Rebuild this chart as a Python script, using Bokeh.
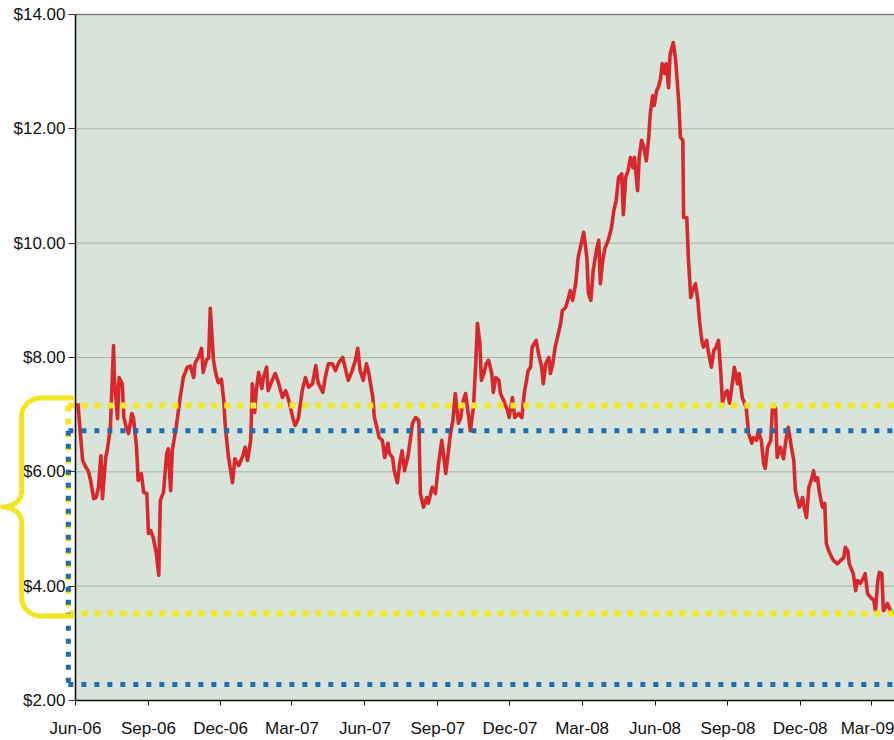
import numpy as np
import pandas as pd
from bokeh.plotting import figure
from bokeh.models import (Range1d, FixedTicker, NumeralTickFormatter,
                          DatetimeTickFormatter, BoxAnnotation)
from bokeh.embed import file_html
from bokeh.resources import INLINE

# ---------------- data ----------------
series_start = "2006-06-01"
day_offset = [
    3, 9, 13, 16, 19, 23, 26, 29, 32, 34, 38, 40, 44, 48, 49, 53, 55, 59, 61, 64,
    67, 71, 73, 77, 79, 83, 86, 90, 92, 95, 98, 102, 105, 107, 111, 115, 117, 120, 122, 127,
    132, 136, 141, 145, 149, 151, 155, 159, 161, 165, 168, 170, 174, 177, 180, 184, 187, 189, 193, 198,
    201, 206, 211, 214, 217, 221, 223, 226, 228, 231, 235, 237, 241, 243, 248, 252, 256, 261, 265, 269,
    274, 277, 281, 286, 290, 294, 299, 303, 306, 312, 315, 319, 324, 328, 332, 337, 341, 344, 349, 353,
    356, 359, 363, 367, 370, 375, 377, 381, 383, 387, 390, 394, 396, 400, 402, 406, 409, 412, 415, 419,
    421, 425, 429, 433, 435, 439, 443, 445, 450, 454, 458, 462, 464, 467, 470, 473, 476, 479, 483, 486,
    488, 492, 496, 498, 502, 505, 507, 510, 512, 515, 518, 521, 525, 527, 530, 534, 536, 540, 545, 547,
    551, 554, 559, 563, 566, 571, 574, 576, 581, 584, 588, 590, 593, 597, 599, 602, 605, 609, 612, 614,
    618, 622, 624, 627, 631, 634, 641, 645, 647, 650, 653, 657, 660, 662, 665, 668, 672, 676, 679, 682,
    685, 689, 691, 694, 697, 700, 703, 705, 709, 711, 714, 717, 720, 723, 725, 728, 730, 733, 735, 738,
    740, 743, 745, 748, 750, 754, 757, 761, 763, 766, 767, 771, 773, 776, 778, 782, 785, 787, 790, 792,
    796, 798, 802, 805, 808, 811, 814, 816, 819, 822, 825, 829, 831, 835, 837, 841, 846, 849, 853, 855,
    859, 861, 865, 868, 870, 873, 877, 879, 883, 885, 889, 893, 896, 899, 903, 906, 908, 911, 913, 917,
    919, 922, 925, 928, 931, 933, 936, 938, 942, 945, 947, 950, 954, 956, 961, 965, 969, 971, 974, 976,
    981, 984, 986, 990, 994, 996, 999, 1003, 1007, 1009, 1012, 1014, 1017, 1019, 1022, 1024, 1028, 1032,
]
price = [
    7.20, 6.20, 6.08, 6.02, 5.85, 5.53, 5.55, 5.73, 6.28, 5.53, 6.25, 6.37, 6.78, 8.21, 7.65, 6.93, 7.65, 7.54, 6.95, 6.78,
    6.67, 7.02, 6.95, 6.43, 5.85, 5.97, 5.64, 5.62, 4.92, 4.97, 4.85, 4.57, 4.19, 5.50, 5.64, 6.32, 6.40, 5.67, 6.37, 6.78,
    7.30, 7.65, 7.83, 7.85, 7.65, 7.91, 8.00, 8.16, 7.74, 7.95, 8.00, 8.86, 7.95, 7.72, 7.56, 7.62, 7.25, 6.78, 6.25, 5.81,
    6.23, 6.11, 6.28, 6.43, 6.20, 6.55, 7.54, 7.04, 7.42, 7.74, 7.46, 7.65, 7.83, 7.42, 7.60, 7.72, 7.56, 7.30, 7.42, 7.25,
    6.95, 6.81, 6.93, 7.42, 7.65, 7.48, 7.54, 7.86, 7.56, 7.39, 7.65, 7.89, 7.89, 7.77, 7.91, 8.00, 7.77, 7.60, 7.77, 7.95,
    8.16, 7.77, 7.60, 7.89, 7.72, 7.30, 6.95, 6.72, 6.60, 6.55, 6.25, 6.50, 6.32, 6.25, 6.02, 5.81, 6.15, 6.37, 6.02, 6.25,
    6.43, 6.85, 6.95, 6.90, 5.62, 5.38, 5.55, 5.45, 5.73, 5.62, 6.15, 6.55, 6.32, 5.97, 6.32, 6.67, 6.90, 7.37, 6.85, 6.95,
    7.20, 7.37, 6.95, 6.72, 7.13, 7.95, 8.60, 8.25, 7.60, 7.72, 7.89, 7.95, 7.72, 7.39, 7.65, 7.60, 7.37, 7.25, 7.07, 6.95,
    7.30, 6.95, 7.02, 6.95, 7.37, 7.77, 7.83, 8.18, 8.30, 8.07, 7.83, 7.54, 7.89, 8.00, 7.72, 7.89, 8.18, 8.42, 8.60, 8.82,
    8.87, 9.05, 9.17, 9.00, 9.30, 9.75, 10.19, 9.75, 9.12, 9.00, 9.52, 9.87, 10.05, 9.29, 9.70, 9.92, 10.05, 10.27, 10.57, 10.75,
    11.15, 11.21, 10.50, 11.15, 11.27, 11.50, 11.32, 11.50, 10.92, 11.50, 11.80, 11.67, 11.44, 11.85, 12.27, 12.58, 12.41, 12.67, 12.72, 12.88,
    13.14, 12.97, 13.14, 12.72, 13.31, 13.51, 13.20, 12.44, 11.85, 11.80, 10.45, 10.45, 9.75, 9.05, 9.15, 9.29, 9.00, 8.65, 8.30, 8.18,
    8.30, 8.12, 7.83, 8.12, 8.18, 8.30, 7.72, 7.20, 7.37, 7.42, 7.20, 7.60, 7.83, 7.54, 7.72, 7.30, 7.12, 6.67, 6.50, 6.60,
    6.55, 6.72, 6.55, 6.15, 6.06, 6.43, 6.55, 7.12, 7.12, 6.25, 6.43, 6.23, 6.55, 6.78, 6.43, 6.20, 5.67, 5.50, 5.38, 5.55,
    5.38, 5.20, 5.73, 5.85, 6.02, 5.85, 5.90, 5.67, 5.38, 5.45, 4.75, 4.62, 4.50, 4.45, 4.39, 4.45, 4.50, 4.68, 4.62, 4.39,
    4.22, 3.92, 4.10, 4.05, 4.15, 4.22, 3.87, 3.80, 3.75, 3.57, 4.10, 4.24, 4.22, 3.57, 3.63, 3.70, 3.57, 3.52,
]
quarter_ticks = ["2006-06-01", "2006-09-01", "2006-12-01", "2007-03-01",
                 "2007-06-01", "2007-09-01", "2007-12-01", "2008-03-01",
                 "2008-06-01", "2008-09-01", "2008-12-01", "2009-03-01"]
price_ticks = [2, 4, 6, 8, 10, 12, 14]
yellow_levels = [7.16, 3.52]   # hand-drawn yellow dotted levels
blue_levels = [6.72, 2.28]     # hand-drawn blue dotted levels

# ---------------- layout helpers ----------------
EPOCH = pd.Timestamp("1970-01-01")
start = pd.Timestamp(series_start)


def ms(ts):
    return (pd.Timestamp(ts) - EPOCH).total_seconds() * 1000.0


def day(d):
    return start + pd.Timedelta(days=float(d))


W, H = 894, 740
AXIS_X, TOP_Y, AXIS_Y = 75, 14, 700          # frame pixel positions
PX_PER_DAY = 796.0 / 1004.0
PX_PER_USD = (AXIS_Y - TOP_Y) / 12.0
x_lo = day(-AXIS_X / PX_PER_DAY)
x_hi = day((W - AXIS_X) / PX_PER_DAY)
y_lo = 2 - (H - AXIS_Y) / PX_PER_USD
y_hi = 14 + TOP_Y / PX_PER_USD

dates = start + pd.to_timedelta(day_offset, unit="D")

p = figure(width=W, height=H, x_axis_type="datetime",
           x_range=Range1d(x_lo, x_hi), y_range=Range1d(y_lo, y_hi),
           output_backend="svg", toolbar_location=None,
           min_border=0, min_border_left=0, min_border_right=0,
           min_border_top=0, min_border_bottom=0,
           background_fill_color="white", border_fill_color="white",
           outline_line_color=None)
p.xgrid.visible = False
p.ygrid.visible = False

# plot area background
p.add_layout(BoxAnnotation(left=ms(start), bottom=price_ticks[0], top=price_ticks[-1],
                           fill_color="#d8e3da", fill_alpha=1.0, line_alpha=0,
                           level="underlay"))

# horizontal grid lines
inner = price_ticks[1:-1]
p.segment(x0=[start] * len(inner), x1=[x_hi] * len(inner), y0=inner, y1=inner,
          line_color="#a9b1ab", line_width=1)
p.segment(x0=[start], x1=[x_hi], y0=[price_ticks[-1]], y1=[price_ticks[-1]],
          line_color="#7d7f7e", line_width=1.3)

# price line
p.line(dates, price, line_color="#d8282c", line_width=3.6, line_join="round")

# hand-drawn dotted annotation lines
ann_x = day(-9)
p.segment(x0=[ann_x], x1=[ann_x], y0=[yellow_levels[0]], y1=[yellow_levels[1]],
          line_color="#f3e81c", line_width=6, line_dash="6 7", line_cap="butt")
p.segment(x0=[ann_x] * 2, x1=[x_hi] * 2, y0=yellow_levels, y1=yellow_levels,
          line_color="#f3e81c", line_width=6, line_dash="6 7", line_cap="butt")
p.segment(x0=[ann_x], x1=[ann_x], y0=[blue_levels[0]], y1=[blue_levels[1]],
          line_color="#1f6cb3", line_width=5, line_dash="5 8", line_cap="butt")
p.segment(x0=[ann_x] * 2, x1=[x_hi] * 2, y0=blue_levels, y1=blue_levels,
          line_color="#1f6cb3", line_width=5, line_dash="5 8", line_cap="butt")

# hand-drawn yellow brace spanning the yellow range
top = yellow_levels[0] + 0.13
bot = yellow_levels[1] - 0.04
mid = (top + bot) / 2
x_end, x_spine, x_tip = -4.0, -68.0, -92.0
rx, ry, ry2 = 24.0, 0.32, 0.26


def arc(cx, cy, ax, ay, a0, a1, n=16):
    t = np.radians(np.linspace(a0, a1, n))
    return list(cx + ax * np.cos(t)), list(cy + ay * np.sin(t))


bx, by = [x_end], [top]
for (cx, cy, ax, ay, a0, a1) in [
    (x_spine + rx, top - ry, rx, ry, 90, 180),
    (x_tip, mid + ry2, x_spine - x_tip, ry2, 0, -90),
    (x_tip, mid - ry2, x_spine - x_tip, ry2, 90, 0),
    (x_spine + rx, bot + ry, rx, ry, 180, 270),
]:
    ax_, ay_ = arc(cx, cy, ax, ay, a0, a1)
    bx += ax_
    by += ay_
bx.append(x_end)
by.append(bot)
p.line(start + pd.to_timedelta(bx, unit="D"), by, line_color="#f2e51d",
       line_width=5, line_cap="round", line_join="round", level="overlay")

# axes
font = "Liberation Sans"
xa = p.xaxis[0]
xa.fixed_location = price_ticks[0]
xa.bounds = (start, x_hi)
xa.ticker = FixedTicker(ticks=[ms(t) for t in quarter_ticks])
fmt = "%b-%y"
xa.formatter = DatetimeTickFormatter(
    microseconds=fmt, milliseconds=fmt, seconds=fmt, minsec=fmt, minutes=fmt,
    hourmin=fmt, hours=fmt, days=fmt, months=fmt, years=fmt)
xa.axis_line_color = "#111111"
xa.axis_line_width = 1.5
xa.major_tick_line_color = "#111111"
xa.major_tick_out = 5
xa.major_tick_in = 0
xa.minor_tick_line_color = None
xa.major_label_text_font = font
xa.major_label_text_font_size = "17px"
xa.major_label_text_color = "#111111"
xa.major_label_standoff = 13

ya = p.yaxis[0]
ya.fixed_location = ms(start)
ya.bounds = (price_ticks[0], price_ticks[-1])
ya.ticker = FixedTicker(ticks=price_ticks)
ya.formatter = NumeralTickFormatter(format="$0.00")
ya.axis_line_color = "#111111"
ya.axis_line_width = 1.6
ya.major_tick_line_color = "#333333"
ya.major_tick_out = 7
ya.major_tick_in = 0
ya.minor_tick_line_color = None
ya.major_label_text_font = font
ya.major_label_text_font_size = "17px"
ya.major_label_text_color = "#111111"
ya.major_label_standoff = 3

open("out.html", "w").write(file_html(p, INLINE))
